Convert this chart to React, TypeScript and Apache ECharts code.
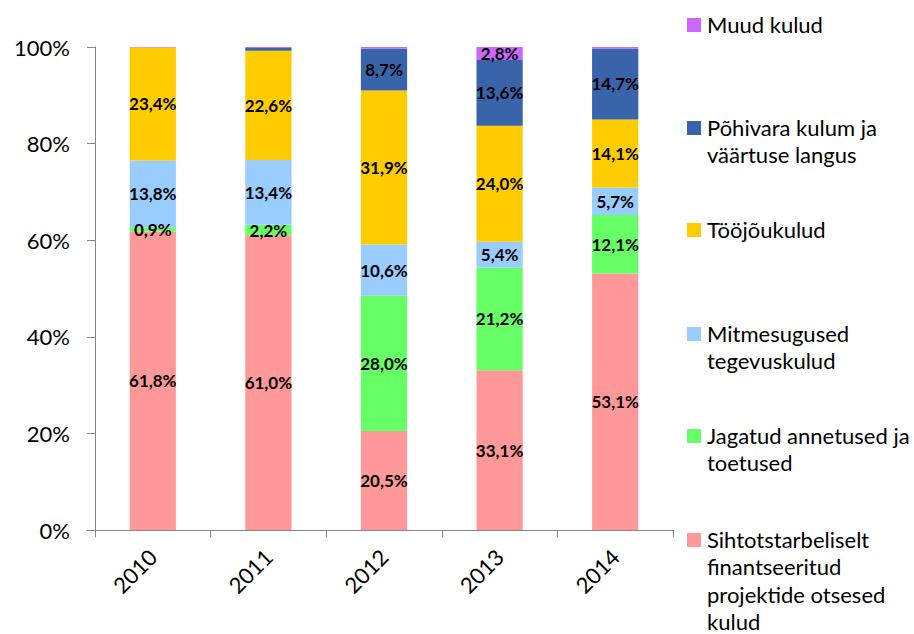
import React, { useEffect, useRef } from "react";
import * as echarts from "echarts";

const years = ["2010", "2011", "2012", "2013", "2014"];
const seriesNames = [
  "Sihtotstarbeliselt finantseeritud projektide otsesed kulud",
  "Jagatud annetused ja toetused",
  "Mitmesugused tegevuskulud",
  "Tööjõukulud",
  "Põhivara kulum ja väärtuse langus",
  "Muud kulud",
];
const legendLines = [
  ["Sihtotstarbeliselt", "finantseeritud", "projektide otsesed", "kulud"],
  ["Jagatud annetused ja", "toetused"],
  ["Mitmesugused", "tegevuskulud"],
  ["Tööjõukulud"],
  ["Põhivara kulum ja", "väärtuse langus"],
  ["Muud kulud"],
];
const colors = ["#FF9999", "#66FF66", "#99CCFF", "#FFCC00", "#3A64AA", "#CC66FF"];
const sihtotstarbeliselt = [61.8, 61.0, 20.5, 33.1, 53.1];
const jagatud = [0.9, 2.2, 28.0, 21.2, 12.1];
const mitmesugused = [13.8, 13.4, 10.6, 5.4, 5.7];
const toojoukulud = [23.4, 22.6, 31.9, 24.0, 14.1];
const pohivara = [0, 0.6, 8.7, 13.6, 14.7];
const muud = [0.1, 0.2, 0.3, 2.8, 0.3];
const yTicks = [0, 20, 40, 60, 80, 100];
const legendCenters = [540, 436, 334, 230, 128, 25];

export default function App() {
  const ref = useRef<HTMLDivElement>(null);
  useEffect(() => {
    if (!ref.current) return;
    const chart = echarts.init(ref.current, null, { renderer: "svg" });
    const data = [sihtotstarbeliselt, jagatud, mitmesugused, toojoukulud, pohivara, muud];
    const font = "Lato, 'Open Sans', sans-serif";
    const graphics: any[] = [];
    legendLines.forEach((lines, i) => {
      const y = legendCenters[i];
      graphics.push({
        type: "rect",
        left: 687,
        top: y - 7,
        shape: { width: 14, height: 14 },
        style: { fill: colors[i] },
      });
      lines.forEach((line, j) => {
        const cy = y + j * 27.5;
        graphics.push({
          type: "text",
          left: 707,
          top: cy - 12,
          style: {
            text: line,
            fontSize: 22,
            lineHeight: 20,
            fontFamily: font,
            fill: "#000",
          },
        });
      });
    });
    chart.setOption({
      animation: false,
      textStyle: { fontFamily: font },
      grid: { left: 95, right: 241, top: 47, bottom: 104, containLabel: false },
      xAxis: {
        type: "category",
        data: years,
        axisLine: { lineStyle: { color: "#868686" } },
        axisTick: { show: true, alignWithLabel: false, length: 7, lineStyle: { color: "#868686" } },
        axisLabel: { rotate: 45, fontSize: 22, color: "#000", margin: 23, fontFamily: font },
      },
      yAxis: {
        type: "value",
        min: 0,
        max: 100,
        interval: 20,
        splitLine: { show: false },
        axisLine: { show: true, lineStyle: { color: "#868686" } },
        axisTick: { show: true, length: 8, lineStyle: { color: "#868686" } },
        axisLabel: {
          fontSize: 22,
          color: "#000",
          margin: 25,
          fontFamily: font,
          formatter: (v: number) => (yTicks.includes(v) ? v + "%" : ""),
        },
      },
      series: seriesNames.map((name, i) => ({
        name,
        type: "bar",
        stack: "total",
        barWidth: "40%",
        itemStyle: { color: colors[i] },
        label: {
          show: true,
          position: "inside",
          fontSize: 17,
          fontWeight: "bold",
          color: "#000",
          fontFamily: font,
          formatter: (p: any) =>
            p.value >= 0.85 ? p.value.toFixed(1).replace(".", ",") + "%" : "",
        },
        data: data[i],
      })),
      graphic: graphics,
    });
    return () => chart.dispose();
  }, []);
  return (
    <div
      ref={ref}
      style={{ position: "absolute", left: 0, top: 0, width: 914, height: 634 }}
    />
  );
}
